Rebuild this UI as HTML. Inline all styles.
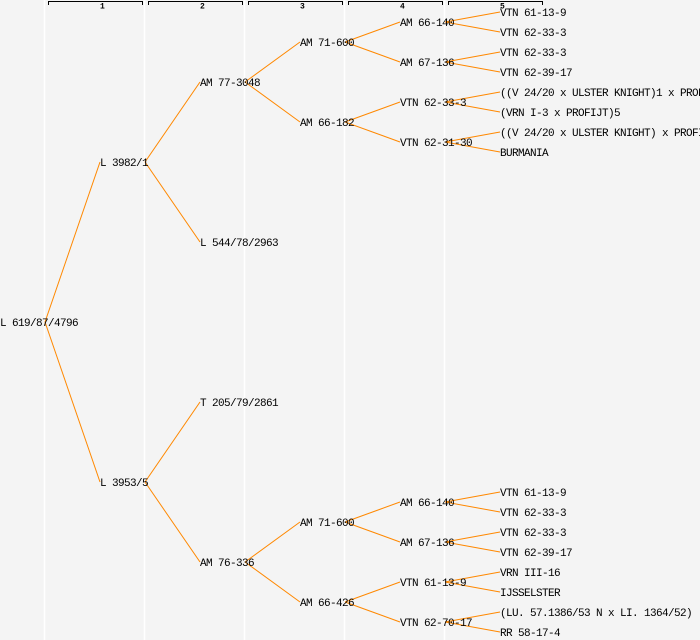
<!DOCTYPE html>
<html><head><style>
html,body{margin:0;padding:0;background:#f4f4f4;}
svg{display:block;}
text{font-family:"Liberation Mono","DejaVu Sans Mono",monospace;font-size:11px;letter-spacing:-0.6px;fill:#000;dominant-baseline:central;}
.n{font-size:8px;font-weight:bold;letter-spacing:0;}
</style></head><body>
<svg width="700" height="640" xmlns="http://www.w3.org/2000/svg">
<rect width="700" height="640" fill="#f4f4f4"/>
<g stroke="#ffffff" stroke-width="1.5">
<line x1="44.5" y1="0" x2="44.5" y2="640"/><line x1="144.5" y1="0" x2="144.5" y2="640"/><line x1="244.5" y1="0" x2="244.5" y2="640"/><line x1="344.5" y1="0" x2="344.5" y2="640"/><line x1="444.5" y1="0" x2="444.5" y2="640"/>
</g>
<g stroke="#000" fill="none" stroke-width="1">
<path d="M48.5 5V1.5H142.5V5"/><path d="M148.5 5V1.5H242.5V5"/><path d="M248.5 5V1.5H342.5V5"/><path d="M348.5 5V1.5H442.5V5"/><path d="M448.5 5V1.5H542.5V5"/>
</g>
<g><text class="n" x="100" y="7">1</text><text class="n" x="200" y="7">2</text><text class="n" x="300" y="7">3</text><text class="n" x="400" y="7">4</text><text class="n" x="500" y="7">5</text></g>
<g stroke="#ff8800" stroke-width="1" fill="none">
<line x1="45" y1="322" x2="100" y2="162"/><line x1="45" y1="322" x2="100" y2="482"/>
<line x1="145" y1="162" x2="200" y2="82"/><line x1="145" y1="162" x2="200" y2="242"/>
<line x1="145" y1="482" x2="200" y2="402"/><line x1="145" y1="482" x2="200" y2="562"/>
<line x1="245" y1="82" x2="300" y2="42"/><line x1="245" y1="82" x2="300" y2="122"/>
<line x1="245" y1="562" x2="300" y2="522"/><line x1="245" y1="562" x2="300" y2="602"/>
<line x1="345" y1="42" x2="400" y2="22"/><line x1="345" y1="42" x2="400" y2="62"/>
<line x1="345" y1="122" x2="400" y2="102"/><line x1="345" y1="122" x2="400" y2="142"/>
<line x1="345" y1="522" x2="400" y2="502"/><line x1="345" y1="522" x2="400" y2="542"/>
<line x1="345" y1="602" x2="400" y2="582"/><line x1="345" y1="602" x2="400" y2="622"/>
<line x1="445" y1="22" x2="500" y2="12"/><line x1="445" y1="22" x2="500" y2="32"/>
<line x1="445" y1="62" x2="500" y2="52"/><line x1="445" y1="62" x2="500" y2="72"/>
<line x1="445" y1="102" x2="500" y2="92"/><line x1="445" y1="102" x2="500" y2="112"/>
<line x1="445" y1="142" x2="500" y2="132"/><line x1="445" y1="142" x2="500" y2="152"/>
<line x1="445" y1="502" x2="500" y2="492"/><line x1="445" y1="502" x2="500" y2="512"/>
<line x1="445" y1="542" x2="500" y2="532"/><line x1="445" y1="542" x2="500" y2="552"/>
<line x1="445" y1="582" x2="500" y2="572"/><line x1="445" y1="582" x2="500" y2="592"/>
<line x1="445" y1="622" x2="500" y2="612"/><line x1="445" y1="622" x2="500" y2="632"/>
</g>
<g transform="translate(0,2)">
<text x="0" y="322">L 619/87/4796</text>
<text x="100" y="162">L 3982/1</text><text x="100" y="482">L 3953/5</text>
<text x="200" y="82">AM 77-3048</text><text x="200" y="242">L 544/78/2963</text>
<text x="200" y="402">T 205/79/2861</text><text x="200" y="562">AM 76-336</text>
<text x="300" y="42">AM 71-600</text><text x="300" y="122">AM 66-182</text>
<text x="300" y="522">AM 71-600</text><text x="300" y="602">AM 66-426</text>
<text x="400" y="22">AM 66-140</text><text x="400" y="62">AM 67-136</text>
<text x="400" y="102">VTN 62-33-3</text><text x="400" y="142">VTN 62-31-30</text>
<text x="400" y="502">AM 66-140</text><text x="400" y="542">AM 67-136</text>
<text x="400" y="582">VTN 61-13-9</text><text x="400" y="622">VTN 62-70-17</text>
<text x="500" y="12">VTN 61-13-9</text><text x="500" y="32">VTN 62-33-3</text>
<text x="500" y="52">VTN 62-33-3</text><text x="500" y="72">VTN 62-39-17</text>
<text x="500" y="92">((V 24/20 x ULSTER KNIGHT)1 x PROFIJT)</text><text x="500" y="112">(VRN I-3 x PROFIJT)5</text>
<text x="500" y="132">((V 24/20 x ULSTER KNIGHT) x PROFIJT)</text><text x="500" y="152">BURMANIA</text>
<text x="500" y="492">VTN 61-13-9</text><text x="500" y="512">VTN 62-33-3</text>
<text x="500" y="532">VTN 62-33-3</text><text x="500" y="552">VTN 62-39-17</text>
<text x="500" y="572">VRN III-16</text><text x="500" y="592">IJSSELSTER</text>
<text x="500" y="612">(LU. 57.1386/53 N x LI. 1364/52)</text><text x="500" y="632">RR 58-17-4</text>
</g>
</svg>
</body></html>
